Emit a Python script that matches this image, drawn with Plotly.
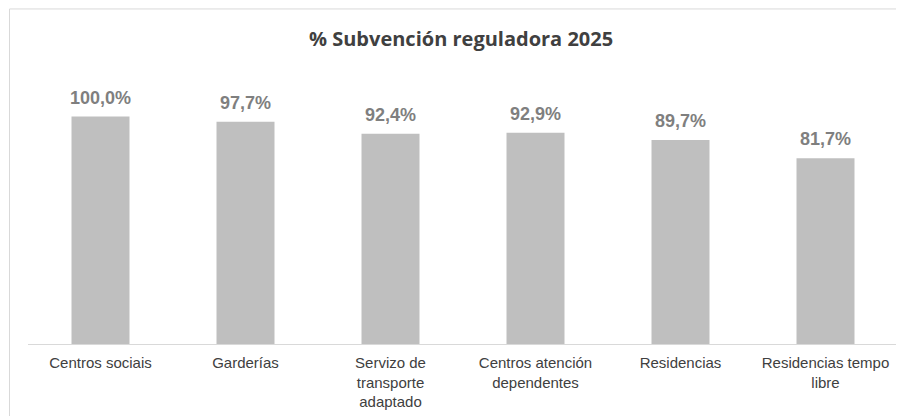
import plotly.graph_objects as go

categories = ["Centros sociais", "Garderías", "Servizo de transporte adaptado",
              "Centros atención dependentes", "Residencias", "Residencias tempo libre"]
tick_labels = ["Centros sociais", "Garderías", "Servizo de<br>transporte<br>adaptado",
               "Centros atención<br>dependentes", "Residencias", "Residencias tempo<br>libre"]
values = [1.000, 0.977, 0.924, 0.929, 0.897, 0.817]
value_labels = ["100,0%", "97,7%", "92,4%", "92,9%", "89,7%", "81,7%"]

# page has an 8px body margin; design in figure coordinates
OFF = 8
W, H = 896, 408
ml, mr, mt, mb = 28 - OFF, 6, 71 - OFF, 70
pw, ph = W - ml - mr, H - mt - mb

def px_x(x):
    return (x - OFF - ml) / pw

def px_y(y):
    return (H - mb - (y - OFF)) / ph

fig = go.Figure()
fig.add_trace(go.Bar(
    x=categories, y=values,
    marker=dict(color="#BFBFBF", line=dict(width=0)),
    width=0.4,
    hoverinfo="skip",
))

annotations = [dict(
    text="<b>% Subvención reguladora 2025</b>",
    xref="paper", yref="paper",
    x=px_x(461), y=px_y(38), xanchor="center", yanchor="middle",
    showarrow=False,
    font=dict(family="Open Sans", size=20, color="#404040"),
)]
for c, v, t in zip(categories, values, value_labels):
    annotations.append(dict(
        x=c, y=v, xref="x", yref="y", text=t, showarrow=False,
        xanchor="center", yanchor="bottom", yshift=7,
        font=dict(family="Liberation Sans, Arial", size=18, color="#7F7F7F", weight="bold"),
    ))

fig.update_layout(
    width=W, height=H,
    margin=dict(l=ml, r=mr, t=mt, b=mb),
    paper_bgcolor="white", plot_bgcolor="white",
    showlegend=False,
    xaxis=dict(
        tickmode="array", tickvals=categories, ticktext=tick_labels,
        showline=True, linecolor="#D9D9D9", linewidth=1,
        ticks="", showgrid=False, zeroline=False,
        ticklabelstandoff=5,
        tickfont=dict(family="Liberation Sans, Arial", size=15, color="#404040"),
        fixedrange=True,
    ),
    yaxis=dict(range=[0, 1.2], visible=False, fixedrange=True),
    annotations=annotations,
    shapes=[dict(
        type="rect", xref="paper", yref="paper",
        x0=px_x(9.5), x1=px_x(930), y0=px_y(440), y1=px_y(8.5),
        line=dict(color="#D9D9D9", width=1), fillcolor="rgba(0,0,0,0)",
        layer="below",
    )],
)

fig.write_html("out.html")
